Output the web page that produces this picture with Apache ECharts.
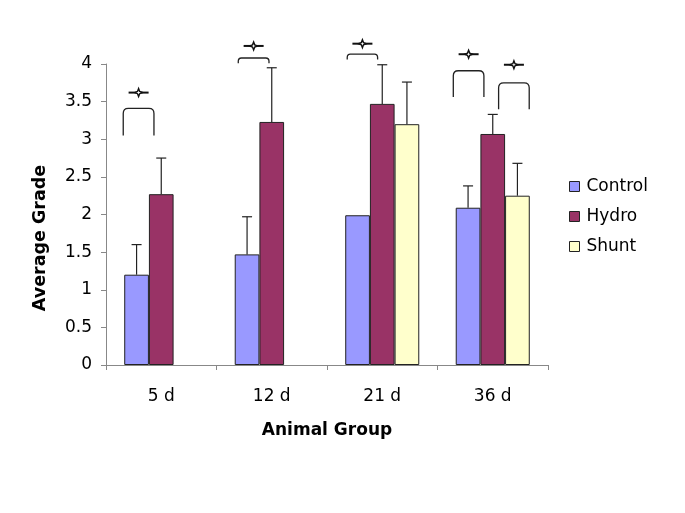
<!DOCTYPE html>
<html>
<head>
<meta charset="utf-8">
<script src="https://cdn.jsdelivr.net/npm/echarts@6/dist/echarts.min.js"></script>
<style>html,body{margin:0;padding:0;background:#fff;}#c{width:685px;height:513px;}</style>
</head>
<body>
<div id="c"></div>
<script>
var categories = ['5 d', '12 d', '21 d', '36 d'];
var seriesNames = ['Control', 'Hydro', 'Shunt'];
var controlValues = [1.20, 1.47, 1.99, 2.09];
var hydroValues = [2.27, 3.23, 3.47, 3.07];
var shuntValues = [null, null, 3.20, 2.25];
var controlErr = [0.40, 0.50, 0, 0.29];
var hydroErr = [0.48, 0.72, 0.52, 0.26];
var shuntErr = [null, null, 0.56, 0.43];
var yTicks = [0, 0.5, 1, 1.5, 2, 2.5, 3, 3.5, 4];
var xTitle = 'Animal Group';
var yTitle = 'Average Grade';
// significance brackets: [category, startOffset, endOffset (fraction of category width), topValue, legValue, starValue]
var brackets = [
  [0, -0.344, -0.066, 3.41, 3.05, 3.62],
  [1, -0.303, -0.025, 4.08, 4.01, 4.24],
  [2, -0.317, -0.042, 4.13, 4.06, 4.27],
  [3, -0.357, -0.080, 3.91, 3.56, 4.13],
  [3, 0.053, 0.330, 3.75, 3.40, 3.99]
];

var colors = ['#9999FF', '#993366', '#FFFFCC'];
var values = [controlValues, hydroValues, shuntValues];
var errs = [controlErr, hydroErr, shuntErr];
var catGap = 0.33;
var FONT = 'DejaVu Sans, sans-serif';

var chart = echarts.init(document.getElementById('c'), null, {renderer: 'canvas'});

var series = [];
seriesNames.forEach(function (name, i) {
  series.push({
    name: name,
    type: 'bar',
    data: values[i],
    barGap: '0%',
    barCategoryGap: '33%',
    itemStyle: {color: colors[i], borderColor: '#222', borderWidth: 1},
    emphasis: {disabled: true},
    z: 2
  });
});
seriesNames.forEach(function (name, i) {
  var d = values[i].map(function (v, k) {
    return (v == null || !errs[i][k]) ? [k, null, null] : [k, v, v + errs[i][k]];
  });
  series.push({
    type: 'custom',
    name: name + ' err',
    data: d,
    z: 3,
    clip: false,
    renderItem: function (params, api) {
      var v = api.value(1);
      if (v == null || isNaN(v)) return;
      var catW = api.size([1, 0])[0];
      var bw = catW * (1 - catGap) / 3;
      var base = api.coord([api.value(0), v]);
      var top = api.coord([api.value(0), api.value(2)]);
      var x = base[0] + (i - 1) * bw;
      return {
        type: 'group',
        children: [
          {type: 'line', shape: {x1: x, y1: base[1], x2: x, y2: top[1]}, style: {stroke: '#222', lineWidth: 1.2}},
          {type: 'line', shape: {x1: x - 5, y1: top[1], x2: x + 5, y2: top[1]}, style: {stroke: '#222', lineWidth: 1.2}}
        ]
      };
    }
  });
});
series.push({
  type: 'custom',
  name: 'brackets',
  data: brackets,
  z: 4,
  clip: false,
  renderItem: function (params, api) {
    var c = api.value(0);
    var catW = api.size([1, 0])[0];
    var ctr = api.coord([c, 0])[0];
    var x1 = ctr + api.value(1) * catW;
    var x2 = ctr + api.value(2) * catW;
    var yT = api.coord([c, api.value(3)])[1];
    var yL = api.coord([c, api.value(4)])[1];
    var yS = api.coord([c, api.value(5)])[1];
    var xm = (x1 + x2) / 2;
    var r = Math.min(5, (yL - yT) * 0.6);
    var path = 'M' + x1 + ' ' + yL + ' L' + x1 + ' ' + (yT + r) + ' Q' + x1 + ' ' + yT + ' ' + (x1 + r) + ' ' + yT +
      ' L' + (x2 - r) + ' ' + yT + ' Q' + x2 + ' ' + yT + ' ' + x2 + ' ' + (yT + r) + ' L' + x2 + ' ' + yL;
    var s = 4, k = 1.1;
    var star = 'M' + (xm - s) + ' ' + yS + ' L' + (xm - k) + ' ' + (yS - k) + ' L' + xm + ' ' + (yS - s) +
      ' L' + (xm + k) + ' ' + (yS - k) + ' L' + (xm + s) + ' ' + yS + ' L' + (xm + k) + ' ' + (yS + k) +
      ' L' + xm + ' ' + (yS + s) + ' L' + (xm - k) + ' ' + (yS + k) + ' Z';
    return {
      type: 'group',
      children: [
        {type: 'path', shape: {pathData: path}, style: {fill: null, stroke: '#222', lineWidth: 1.3}},
        {type: 'line', shape: {x1: xm - 10, y1: yS, x2: xm + 10, y2: yS}, style: {stroke: '#111', lineWidth: 2}},
        {type: 'path', shape: {pathData: star}, style: {fill: '#fff', stroke: '#111', lineWidth: 1.4}}
      ]
    };
  }
});

chart.setOption({
  animation: false,
  backgroundColor: '#fff',
  grid: {left: 106, right: 137, top: 64, bottom: 148},
  legend: {
    data: seriesNames,
    orient: 'vertical',
    left: 569,
    top: 177,
    padding: 0,
    itemWidth: 10,
    itemHeight: 10,
    itemGap: 11,
    icon: 'rect',
    itemStyle: {borderColor: '#222', borderWidth: 1},
    textStyle: {fontFamily: FONT, fontSize: 17, color: '#000', lineHeight: 19, padding: [0, 0, 0, 2]},
    selectedMode: false
  },
  graphic: [{
    type: 'text',
    x: 40,
    y: 238,
    rotation: Math.PI / 2,
    style: {text: yTitle, fontFamily: FONT, fontSize: 17.5, fontWeight: 'bold', fill: '#000',
      align: 'center', verticalAlign: 'middle'}
  }],
  xAxis: {
    type: 'category',
    data: categories,
    name: xTitle,
    nameLocation: 'middle',
    nameGap: 57,
    nameTextStyle: {fontFamily: FONT, fontSize: 17, fontWeight: 'bold', color: '#000'},
    axisLine: {lineStyle: {color: '#888', width: 1}},
    axisTick: {show: true, length: 5, lineStyle: {color: '#888'}},
    axisLabel: {fontFamily: FONT, fontSize: 17, color: '#000', margin: 23}
  },
  yAxis: {
    type: 'value',
    min: 0,
    max: 4,
    interval: 0.5,
    splitLine: {show: false},
    axisLine: {show: true, lineStyle: {color: '#888', width: 1}},
    axisTick: {show: true, length: 5, lineStyle: {color: '#888'}},
    axisLabel: {fontFamily: FONT, fontSize: 17, color: '#000', margin: 14,
      formatter: function (v) { return yTicks.indexOf(v) >= 0 ? String(v) : ''; }}
  },
  series: series
});
</script>
</body>
</html>
